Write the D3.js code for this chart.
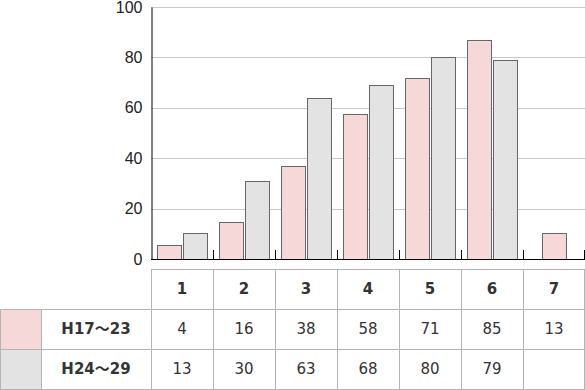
<!DOCTYPE html>
<html>
<head>
<meta charset="utf-8">
<script src="https://cdn.jsdelivr.net/npm/d3@7"></script>
<style>
  body { margin: 0; background: #fff; }
  svg { display: block; }
  .tick text { font-family: "Liberation Sans", Arial, sans-serif; font-size: 16px; fill: #222; }
  .cell { font-family: "DejaVu Sans", "Noto Sans CJK JP", sans-serif; font-size: 15px; fill: #333; }
  .bold { font-weight: bold; }
</style>
</head>
<body>
<script>
// categories along the x axis
const categories = ["1", "2", "3", "4", "5", "6", "7"];
const seriesNames = ["H17〜23", "H24〜29"];
// bar heights
const barsH17 = [5.5, 14.5, 37, 57.5, 72, 87, 10.5];
const barsH24 = [10.5, 31, 64, 69, 80, 79, null];
// values printed in the table
const tableH17 = ["4", "16", "38", "58", "71", "85", "13"];
const tableH24 = ["13", "30", "63", "68", "80", "79", ""];
const yTicks = [0, 20, 40, 60, 80, 100];

const colors = ["#f6d8d8", "#e3e3e3"];

const w = 585, h = 390;
const plotLeft = 151, plotRight = 585, plotTop = 7, plotBottom = 259;

const svg = d3.select("body").append("svg").attr("width", w).attr("height", h);

const x = d3.scaleBand().domain(categories).range([plotLeft, plotRight]);
const inner = d3.scaleBand().domain(seriesNames).range([6, x.bandwidth() - 6]).paddingInner(0.08);
const y = d3.scaleLinear().domain([0, 100]).range([plotBottom, plotTop]);

// gridlines
svg.append("g").selectAll("line")
  .data(yTicks.filter(d => d > 0))
  .enter().append("line")
  .attr("x1", plotLeft).attr("x2", plotRight)
  .attr("y1", d => Math.round(y(d)) + 0.5).attr("y2", d => Math.round(y(d)) + 0.5)
  .attr("stroke", "#c8c8c8");

// bars
const rows = categories.map((c, i) => ({ c: c, vals: [barsH17[i], barsH24[i]] }));
rows.forEach(r => {
  const present = r.vals.map((v, k) => ({ v: v, k: k })).filter(d => d.v != null);
  present.forEach(d => {
    let bx;
    if (present.length === 1) bx = x(r.c) + x.bandwidth() / 2 - inner.bandwidth() / 2;
    else bx = x(r.c) + inner(seriesNames[d.k]);
    svg.append("rect")
      .attr("x", Math.round(bx) + 0.5)
      .attr("y", Math.round(y(d.v)) + 0.5)
      .attr("width", Math.round(inner.bandwidth()))
      .attr("height", Math.round(y(0)) - Math.round(y(d.v)))
      .attr("fill", colors[d.k])
      .attr("stroke", "#666");
  });
});

// y axis
const yAxis = d3.axisLeft(y).tickValues(yTicks).tickSize(0).tickPadding(9);
const gy = svg.append("g").attr("transform", "translate(" + (plotLeft + 0.5) + ",0)").call(yAxis);
gy.select(".domain").attr("stroke", "#000");

// x axis with inward ticks at band edges
const xAxisG = svg.append("g");
xAxisG.append("line")
  .attr("x1", plotLeft).attr("x2", plotRight)
  .attr("y1", plotBottom + 0.5).attr("y2", plotBottom + 0.5)
  .attr("stroke", "#000");
xAxisG.selectAll(".xt")
  .data(categories)
  .enter().append("line")
  .attr("class", "xt")
  .attr("x1", d => Math.min(Math.round(x(d) + x.bandwidth()) + 0.5, plotRight - 0.5))
  .attr("x2", d => Math.min(Math.round(x(d) + x.bandwidth()) + 0.5, plotRight - 0.5))
  .attr("y1", plotBottom - 9).attr("y2", plotBottom)
  .attr("stroke", "#000");

// data table
const tTop = 269, rowH = 40, swatchW = 41;
const tb = svg.append("g");
const border = "#b4b4b4";

// swatches
[0, 1].forEach(k => {
  tb.append("rect")
    .attr("x", 0).attr("y", tTop + rowH * (k + 1))
    .attr("width", swatchW).attr("height", rowH)
    .attr("fill", colors[k]);
});

// horizontal lines
tb.append("line").attr("x1", plotLeft).attr("x2", plotRight)
  .attr("y1", tTop + 0.5).attr("y2", tTop + 0.5).attr("stroke", border);
[1, 2, 3].forEach(r => {
  const ly = Math.min(tTop + rowH * r + 0.5, h - 0.5);
  tb.append("line").attr("x1", 0).attr("x2", plotRight)
    .attr("y1", ly).attr("y2", ly)
    .attr("stroke", border);
});

// vertical lines
[0.5, swatchW + 0.5].forEach(vx => {
  tb.append("line").attr("x1", vx).attr("x2", vx)
    .attr("y1", tTop + rowH).attr("y2", tTop + rowH * 3).attr("stroke", border);
});
categories.concat(["end"]).forEach(c => {
  const vx = c === "end" ? plotRight - 0.5 : Math.round(x(c)) + 0.5;
  tb.append("line").attr("x1", vx).attr("x2", vx)
    .attr("y1", tTop).attr("y2", tTop + rowH * 3).attr("stroke", border);
});

// header labels
tb.selectAll(".hd").data(categories).enter().append("text")
  .attr("class", "cell bold")
  .attr("x", d => x(d) + x.bandwidth() / 2)
  .attr("y", tTop + rowH / 2)
  .attr("dy", "0.36em")
  .attr("text-anchor", "middle")
  .text(d => d);

// series labels
seriesNames.forEach((s, k) => {
  tb.append("text")
    .attr("class", "cell bold")
    .attr("x", (swatchW + plotLeft) / 2)
    .attr("y", tTop + rowH * (k + 1) + rowH / 2)
    .attr("dy", "0.36em")
    .attr("text-anchor", "middle")
    .text(s);
});

// values
[tableH17, tableH24].forEach((vals, k) => {
  tb.selectAll(".v" + k).data(vals).enter().append("text")
    .attr("class", "cell")
    .attr("x", (d, i) => x(categories[i]) + x.bandwidth() / 2)
    .attr("y", tTop + rowH * (k + 1) + rowH / 2)
    .attr("dy", "0.36em")
    .attr("text-anchor", "middle")
    .text(d => d);
});
</script>
</body>
</html>
